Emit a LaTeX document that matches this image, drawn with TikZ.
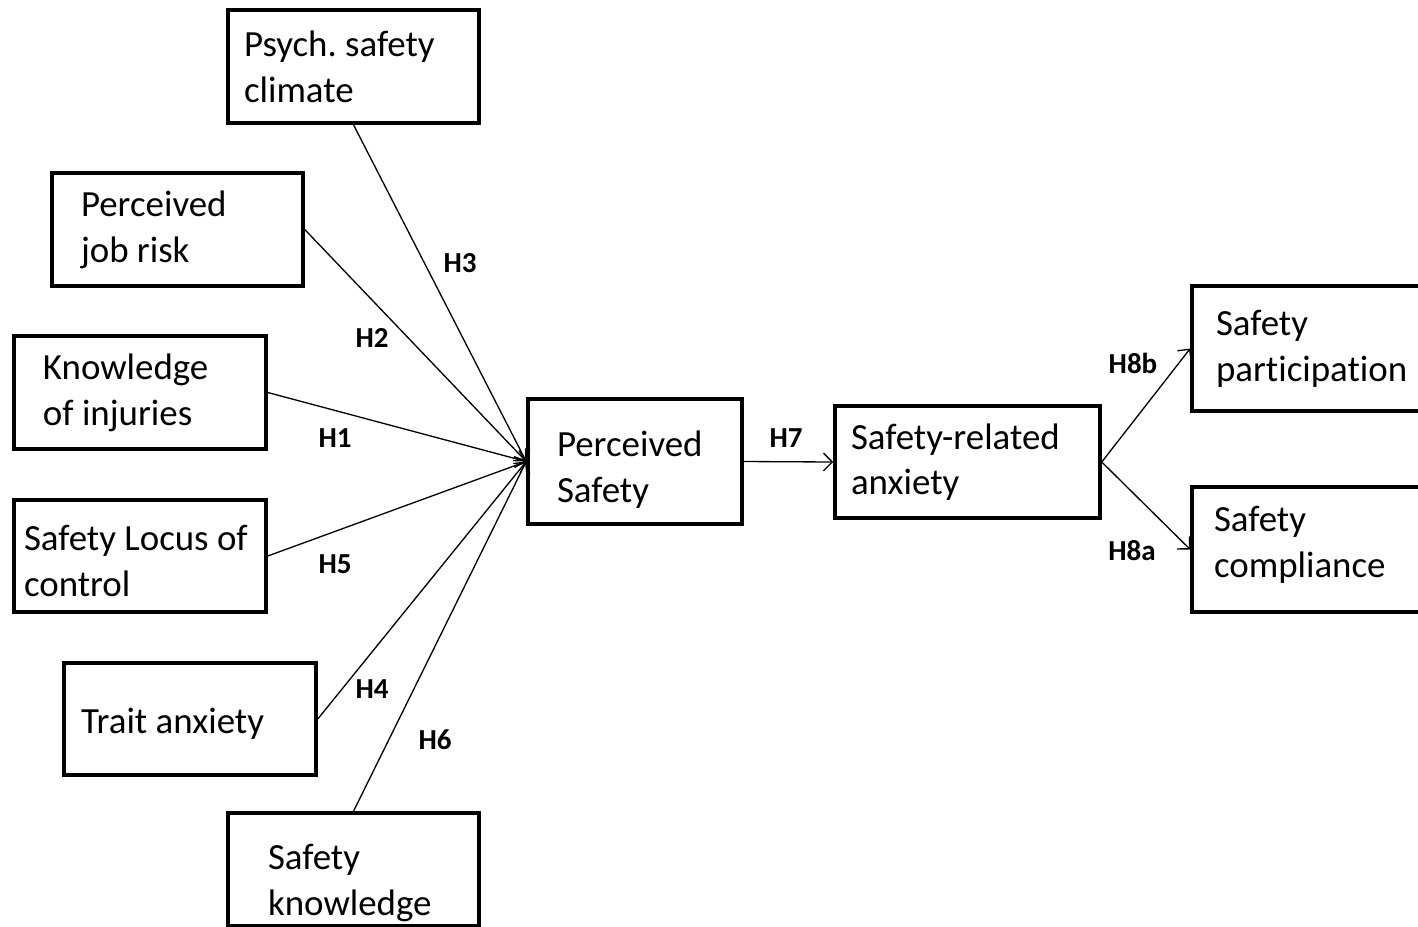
\documentclass[tikz,border=0pt]{standalone}
\usepackage{fontspec}
\setmainfont{Carlito}[Ligatures=NoCommon]
\usepackage{tikz}
\usetikzlibrary{arrows.meta}

\newcommand\boxfont{\fontsize{21pt}{26pt}\selectfont\frenchspacing}

\tikzset{
  box/.style={draw, line width=2pt, align=flush left, inner ysep=2pt, font=\boxfont},
  lab/.style={font=\fontsize{16.5pt}{19pt}\selectfont\bfseries, inner sep=1pt},
  arr/.style={-{Straight Barb[length=5pt,width=10pt]}, line width=0.75pt}
}

\begin{document}
\begin{tikzpicture}
\useasboundingbox (0,0) rectangle (28.36,-18.52);
% left side
\node[box, text width=4.38cm, inner xsep=0.32cm, minimum height=2.26cm] (psych) at (7.07,-1.33) {Psych. safety\\climate};
\node[box, text width=3.86cm, inner xsep=0.58cm, minimum height=2.26cm] (risk) at (3.55,-4.59) {Perceived\\job risk};
\node[box, text width=3.88cm, inner xsep=0.58cm, minimum height=2.26cm] (inj) at (2.80,-7.85) {Knowledge\\of injuries};
\node[box, text width=4.64cm, inner xsep=0.20cm, minimum height=2.24cm] (locus) at (2.80,-11.12) {\rule{0pt}{20pt}Safety Locus of\\control};
\node[box, text width=4.36cm, inner xsep=0.34cm, minimum height=2.24cm] (trait) at (3.80,-14.38) {\rule{0pt}{20pt}Trait anxiety};
\node[box, text width=3.42cm, inner xsep=0.80cm, minimum height=2.26cm] (know) at (7.07,-17.39) {\rule{0pt}{30pt}Safety\\knowledge};
% middle
\node[box, text width=3.12cm, inner xsep=0.58cm, minimum height=2.50cm] (ps) at (12.70,-9.23) {\rule{0pt}{24pt}Perceived\\Safety};
\node[box, text width=4.66cm, inner xsep=0.32cm, minimum height=2.24cm] (anx) at (19.35,-9.24) {Safety-related\\anxiety};
% right side
\node[box, text width=4.10cm, inner xsep=0.48cm, minimum height=2.50cm] (part) at (26.37,-6.97) {Safety\\participation};
\node[box, text width=4.18cm, inner xsep=0.44cm, minimum height=2.50cm] (comp) at (26.37,-10.99) {Safety\\compliance\rule[-9pt]{0pt}{1pt}};

\draw[arr] (psych.south) -- (ps.west);
\draw[arr] (risk.east) -- (ps.west);
\draw[arr] (inj.east) -- (ps.west);
\draw[arr] (locus.east) -- (ps.west);
\draw[arr] (trait.east) -- (ps.west);
\draw[arr] (know.north) -- (ps.west);
\draw[arr] (ps.east) -- (anx.west);
\draw[arr] (anx.east) -- (part.west);
\draw[arr] (anx.east) -- (comp.west);

\node[lab] (h3) at (9.20,-5.26) {H3};
\node[lab] (h2) at (7.44,-6.76) {H2};
\node[lab] (h1) at (6.70,-8.76) {H1};
\node[lab] (h5) at (6.70,-11.28) {H5};
\node[lab] (h4) at (7.44,-13.78) {H4};
\node[lab] (h6) at (8.70,-14.80) {H6};
\node[lab] (h7) at (15.72,-8.76) {H7};
\node[lab] (h8b) at (22.66,-7.26) {H8b};
\node[lab] (h8a) at (22.64,-11.02) {H8a};
\end{tikzpicture}
\end{document}
